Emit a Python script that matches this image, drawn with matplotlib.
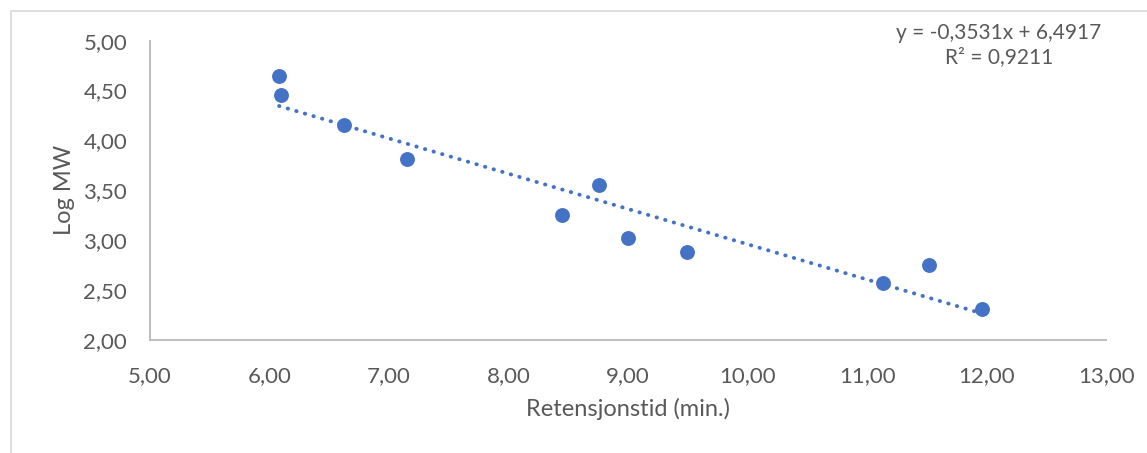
import matplotlib
matplotlib.use("Agg")
import matplotlib.pyplot as plt
import numpy as np
from matplotlib.lines import Line2D
from matplotlib.ticker import FuncFormatter

# retensjonstid (min.) og log MW, lest av bildet
retensjonstid = [6.08, 6.10, 6.62, 7.15, 8.45, 8.76, 9.00, 9.49, 11.13, 11.52, 11.96]
log_mw = [4.65, 4.46, 4.155, 3.815, 3.25, 3.55, 3.02, 2.88, 2.575, 2.75, 2.31]

eq_text = "y = -0,3531x + 6,4917\nR² = 0,9211"

plt.rcParams["font.family"] = ["Lato", "DejaVu Sans"]
grey = "#595959"
blue = "#4472C4"

fig = plt.figure(figsize=(11.47, 4.53), dpi=100)
ax = fig.add_axes([0.1308, 0.2494, 0.8335, 0.6608])

ax.scatter(retensjonstid, log_mw, s=115, color=blue, zorder=3, linewidths=0)

# lineær trendlinje
k, m = np.polyfit(retensjonstid, log_mw, 1)
xs = np.array([min(retensjonstid), max(retensjonstid)])
ax.plot(xs, k * xs + m, color=blue, lw=2.8, linestyle=(0, (0.1, 2.2)),
        dash_capstyle="round", zorder=2)

ax.set_xlim(5, 13)
ax.set_ylim(2, 5)
ax.set_xticks(np.arange(5, 13.01, 1))
ax.set_yticks(np.arange(2, 5.01, 0.5))
fmt = FuncFormatter(lambda v, p: ("%.2f" % v).replace(".", ","))
ax.xaxis.set_major_formatter(fmt)
ax.yaxis.set_major_formatter(fmt)
ax.tick_params(length=0, labelsize=16, labelcolor=grey)
ax.tick_params(axis="x", pad=18.5)
ax.tick_params(axis="y", pad=16.5)

for s in ["top", "right"]:
    ax.spines[s].set_visible(False)
for s in ["left", "bottom"]:
    ax.spines[s].set_color("#BFBFBF")
    ax.spines[s].set_linewidth(1.5)

ax.set_xlabel("Retensjonstid (min.)", fontsize=17, color=grey, labelpad=9)
ax.set_ylabel("Log MW", fontsize=17, color=grey, labelpad=6)

fig.text(999 / 1147, 1 - 45 / 453, eq_text, ha="center", va="center",
         fontsize=15, color=grey, linespacing=1.3)

# ramme rundt diagramområdet
fig.add_artist(Line2D([11 / 1147, 11 / 1147, 1], [0, 1 - 11 / 453, 1 - 11 / 453],
                      transform=fig.transFigure, color="#D9D9D9", lw=1.2))

fig.savefig("out.png", dpi=100)
